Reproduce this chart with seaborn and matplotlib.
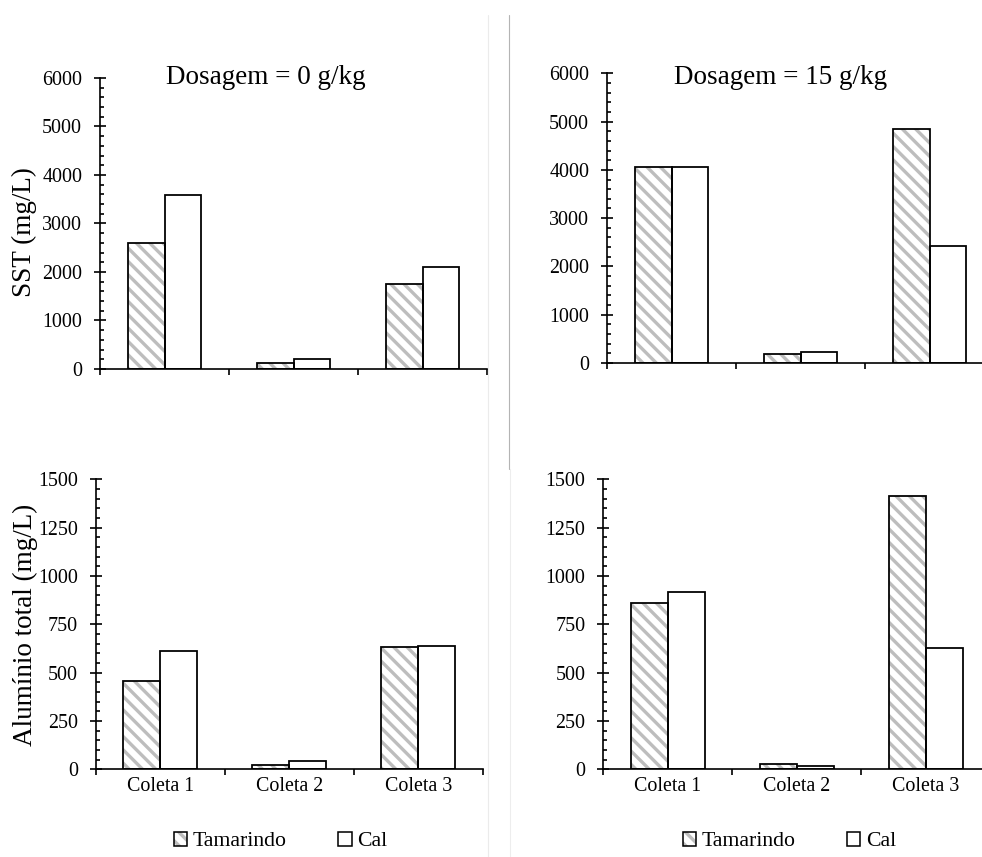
import pandas as pd
import numpy as np
from matplotlib import pyplot as plt
from matplotlib.patches import Patch
from matplotlib.lines import Line2D
from matplotlib.legend_handler import HandlerTuple
from matplotlib.ticker import MultipleLocator
import seaborn as sns

# dados
coletas = ['Coleta 1', 'Coleta 2', 'Coleta 3']
materiais = ['Tamarindo', 'Cal']
sst_0_tamarindo = [2600, 130, 1750]
sst_0_cal = [3590, 200, 2100]
sst_15_tamarindo = [4050, 180, 4840]
sst_15_cal = [4050, 220, 2420]
al_0_tamarindo = [455, 22, 635]
al_0_cal = [610, 43, 640]
al_15_tamarindo = [860, 26, 1415]
al_15_cal = [915, 16, 625]
titulos = ['Dosagem = 0 g/kg', 'Dosagem = 15 g/kg']

sns.set_theme(style='ticks')
plt.rcParams['font.family'] = ['Liberation Serif', 'DejaVu Serif']
plt.rcParams['hatch.linewidth'] = 1.5
plt.rcParams['axes.linewidth'] = 0.75
plt.rcParams['text.color'] = 'black'

W, H, DPI = 982, 857, 160
cor_hachura = '#bdbdbd'
hachura = '\\\\\\\\'

def frame(tam, cal):
    return pd.DataFrame({'coleta': coletas * 2,
                         'material': [materiais[0]] * 3 + [materiais[1]] * 3,
                         'valor': tam + cal})

def px_axes(left, top, right, bottom):
    return [left / W, 1 - bottom / H, (right - left) / W, (bottom - top) / H]

fig = plt.figure(figsize=(W / DPI, H / DPI), dpi=DPI)

paineis = [
    (frame(sst_0_tamarindo, sst_0_cal), px_axes(100, 78, 487, 369), 6000, 1000, 200, False),
    (frame(sst_15_tamarindo, sst_15_cal), px_axes(607, 73.3, 994, 363), 6000, 1000, 200, False),
    (frame(al_0_tamarindo, al_0_cal), px_axes(95.7, 479.3, 482.7, 769.3), 1500, 250, 50, True),
    (frame(al_15_tamarindo, al_15_cal), px_axes(603.3, 479.3, 990.3, 769.3), 1500, 250, 50, True),
]

axes = []
for df, pos, ymax, major, minor, baixo in paineis:
    ax = fig.add_axes(pos)
    # camada com hachura (cor da hachura vem da borda)
    sns.barplot(data=df, x='coleta', y='valor', hue='material', order=coletas, hue_order=materiais,
                palette=['white', 'white'], saturation=1, width=0.57, edgecolor=cor_hachura,
                linewidth=0, errorbar=None, legend=False, ax=ax)
    for b in ax.containers[0]:
        b.set_hatch(hachura)
    # contorno preto
    sns.barplot(data=df, x='coleta', y='valor', hue='material', order=coletas, hue_order=materiais,
                palette=['black', 'black'], fill=False, width=0.57, linewidth=0.8,
                errorbar=None, legend=False, ax=ax)
    ax.set_xlim(-0.5, 2.5)
    ax.set_ylim(0, ymax)
    ax.set_xlabel('')
    ax.set_ylabel('')
    sns.despine(ax=ax)
    ax.yaxis.set_major_locator(MultipleLocator(major))
    ax.yaxis.set_minor_locator(MultipleLocator(minor))
    ax.set_xticks([0, 1, 2])
    ax.set_xticks([-0.5, 0.5, 1.5, 2.5], minor=True)
    ax.tick_params(axis='y', which='major', direction='inout', length=5, width=0.75, pad=5.5,
                   labelsize=9, color='black', labelcolor='black')
    ax.tick_params(axis='y', which='minor', direction='in', length=1.8, width=0.75, color='black')
    ax.tick_params(axis='x', which='major', length=0, pad=3.3, labelsize=9, labelcolor='black',
                   labelbottom=baixo)
    ax.tick_params(axis='x', which='minor', direction='out', length=2.6, width=0.75, color='black')
    for s in ['left', 'bottom']:
        ax.spines[s].set_color('black')
    axes.append(ax)

# titulos e rotulos dos eixos
fig.text(265.8 / W, 1 - 84.5 / H, titulos[0], ha='center', va='baseline', fontsize=12.2)
fig.text(780.8 / W, 1 - 84 / H, titulos[1], ha='center', va='baseline', fontsize=12.2)
fig.text(24 / W, 1 - 232 / H, 'SST (mg/L)', rotation=90, ha='center', va='center', fontsize=12.2)
fig.text(25 / W, 1 - 625 / H, 'Alumínio total (mg/L)', rotation=90, ha='center', va='center', fontsize=12.2)

# legendas
h_tam = (Patch(facecolor='white', edgecolor=cor_hachura, hatch=hachura, linewidth=0),
         Patch(facecolor='none', edgecolor='black', linewidth=0.7))
h_cal = Patch(facecolor='white', edgecolor='black', linewidth=0.7)
for ax, cx in zip(axes[2:], [280.4, 789.3]):
    ax.legend([h_tam, h_cal], materiais, handler_map={tuple: HandlerTuple(ndivide=1)},
              loc='center', bbox_to_anchor=(cx / W, 1 - 841.7 / H), bbox_transform=fig.transFigure,
              ncol=2, frameon=False, fontsize=9.8, handlelength=0.6, handleheight=0.6,
              handletextpad=0.25, columnspacing=2.4, labelcolor='black')

# bordas das imagens originais
fig.add_artist(Line2D([488 / W, 488 / W], [1 - 15 / H, 0], color='#ebebeb', lw=0.5))
fig.add_artist(Line2D([508.5 / W, 508.5 / W], [1 - 15 / H, 1 - 469 / H], color='#b4b4b4', lw=0.5))
fig.add_artist(Line2D([509.5 / W, 509.5 / W], [1 - 469 / H, 0], color='#ededed', lw=0.5))

fig.savefig('out.png', dpi=DPI, facecolor='white')
